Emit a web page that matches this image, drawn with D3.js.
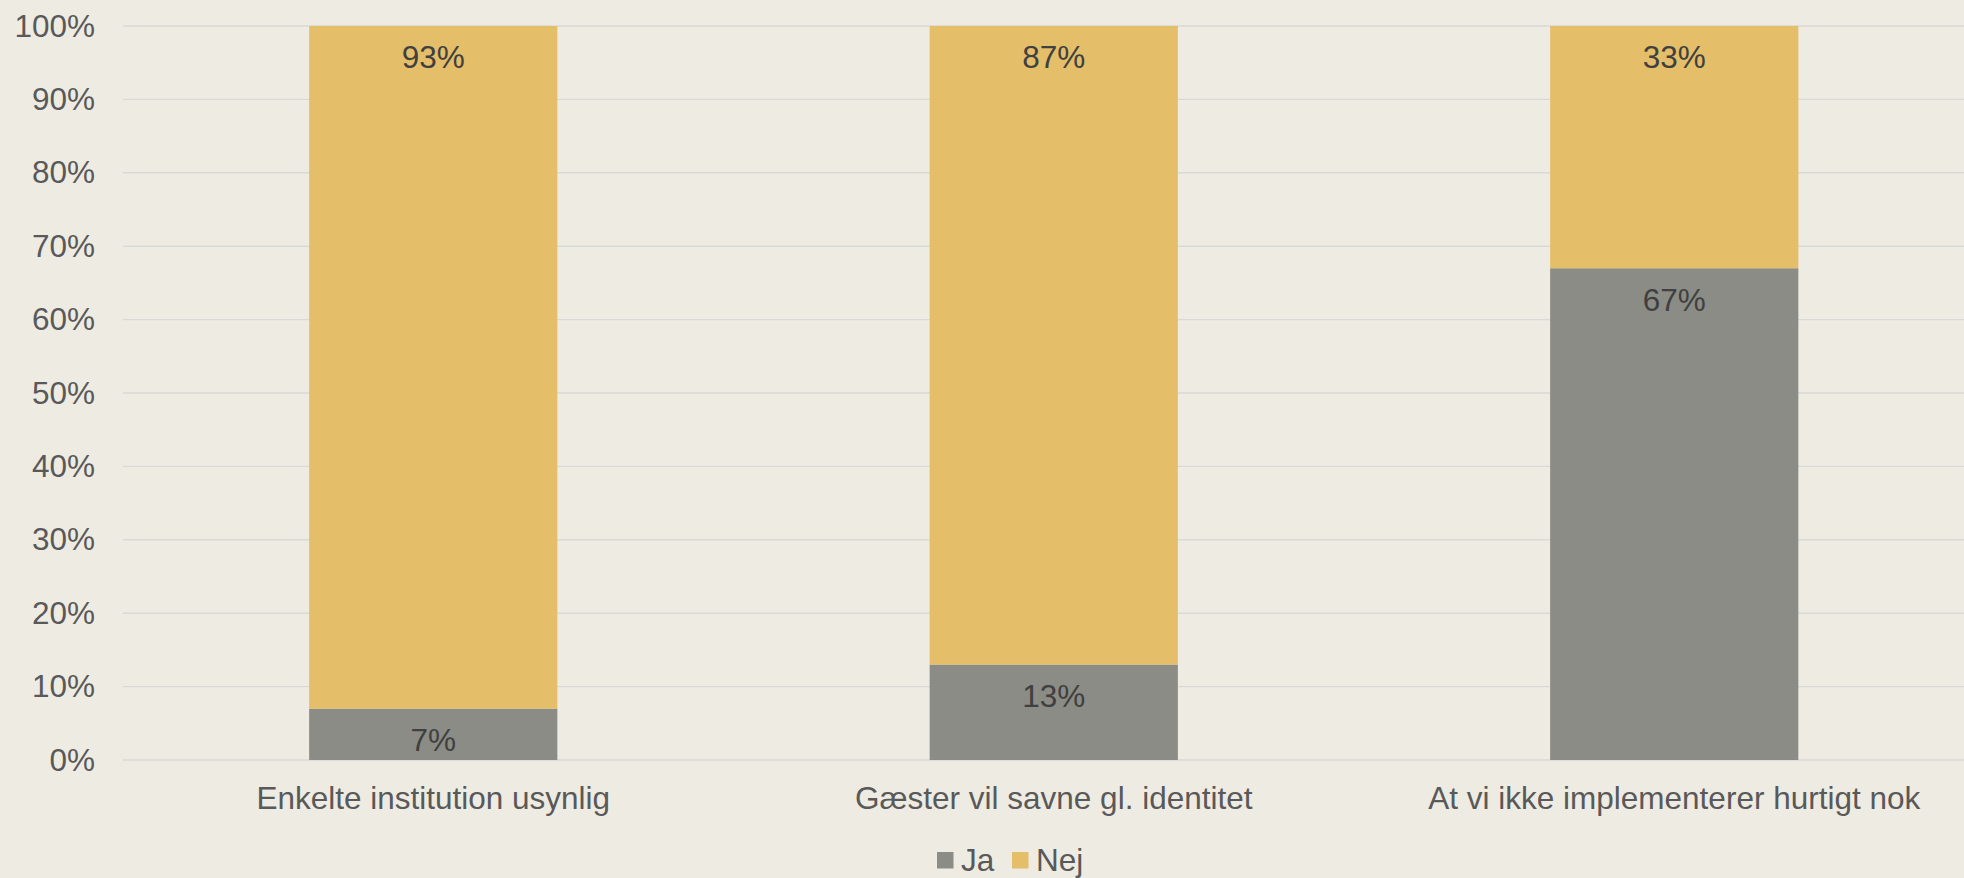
<!DOCTYPE html>
<html>
<head>
<meta charset="utf-8">
<script src="https://cdn.jsdelivr.net/npm/d3@7"></script>
<style>
  html, body { margin:0; padding:0; background:#EEEBE3; overflow:hidden; }
  svg { display:block; }
  text { font-family: "Liberation Sans", Arial, sans-serif; }
</style>
</head>
<body>
<div id="chart"></div>
<script>
var categories = ["Enkelte institution usynlig", "Gæster vil savne gl. identitet", "At vi ikke implementerer hurtigt nok"];
var jaValues = [7, 13, 67];
var nejValues = [93, 87, 33];
var seriesNames = ["Ja", "Nej"];
var yTicks = [0, 10, 20, 30, 40, 50, 60, 70, 80, 90, 100];

var width = 1964, height = 878;
var colors = {Ja:"#8B8C85", Nej:"#E4BE69"};
var fontSize = 31.5;

var svg = d3.select("#chart").append("svg")
	.attr("width", width)
	.attr("height", height);

svg.append("rect")
	.attr("width", width)
	.attr("height", height)
	.style("fill", "#EEEBE3");

// plot spills a bit past the right edge like the original
var x = d3.scaleBand().domain(categories).range([123, 1984.5]).paddingInner(0.6).paddingOuter(0.3);
var y = d3.scaleLinear().domain([0, 100]).range([760, 26]);

// gridlines
svg.append("g").attr("class","grid")
	.selectAll("line")
	.data(yTicks).enter()
	.append("line")
	.attr("x1", 123)
	.attr("x2", width)
	.attr("y1", function(d){ return y(d); })
	.attr("y2", function(d){ return y(d); })
	.style("stroke", "#D9D9D6")
	.style("stroke-width", 1.4);

// y axis labels
var yAxis = d3.axisLeft(y).tickValues(yTicks).tickFormat(function(d){ return d + "%"; }).tickSize(0).tickPadding(28);
var yg = svg.append("g").attr("transform", "translate(123,0)").call(yAxis);
yg.select(".domain").remove();
yg.selectAll("text")
	.style("font-size", fontSize + "px")
	.style("fill", "#595959")
	.attr("font-family", null);

// stacked data
var stack = categories.map(function(c, i){
	return [
		{cat:c, name:"Ja", y0:0, y1:jaValues[i], v:jaValues[i]},
		{cat:c, name:"Nej", y0:jaValues[i], y1:jaValues[i] + nejValues[i], v:nejValues[i]}
	];
});
var segs = [].concat.apply([], stack);

svg.append("g").selectAll("rect")
	.data(segs).enter()
	.append("rect")
	.attr("x", function(d){ return x(d.cat); })
	.attr("y", function(d){ return y(d.y1); })
	.attr("width", x.bandwidth())
	.attr("height", function(d){ return y(d.y0) - y(d.y1); })
	.style("fill", function(d){ return colors[d.name]; });

// labels near the inside end of each segment
svg.append("g").selectAll("text")
	.data(segs).enter()
	.append("text")
	.attr("x", function(d){ return x(d.cat) + x.bandwidth()/2; })
	.attr("y", function(d){ return y(d.y1) + 31; })
	.attr("dy", "0.36em")
	.style("text-anchor", "middle")
	.style("font-size", fontSize + "px")
	.style("fill", "#404040")
	.text(function(d){ return d.v + "%"; });

// x axis labels
var xAxis = d3.axisBottom(x).tickSize(0).tickPadding(27);
var xg = svg.append("g").attr("transform", "translate(0,760)").call(xAxis);
xg.select(".domain").remove();
xg.selectAll("text")
	.style("font-size", fontSize + "px")
	.style("fill", "#595959")
	.attr("font-family", null);

// legend
var legendX = [937, 1012];
var leg = svg.append("g").selectAll("g")
	.data(seriesNames).enter()
	.append("g")
	.attr("transform", function(d, i){ return "translate(" + legendX[i] + ",852)"; });
leg.append("rect")
	.attr("width", 16.5)
	.attr("height", 16.5)
	.style("fill", function(d){ return colors[d]; });
leg.append("text")
	.attr("x", 24)
	.attr("y", 18.5)
	.style("font-size", fontSize + "px")
	.style("fill", "#595959")
	.text(function(d){ return d; });
</script>
</body>
</html>
